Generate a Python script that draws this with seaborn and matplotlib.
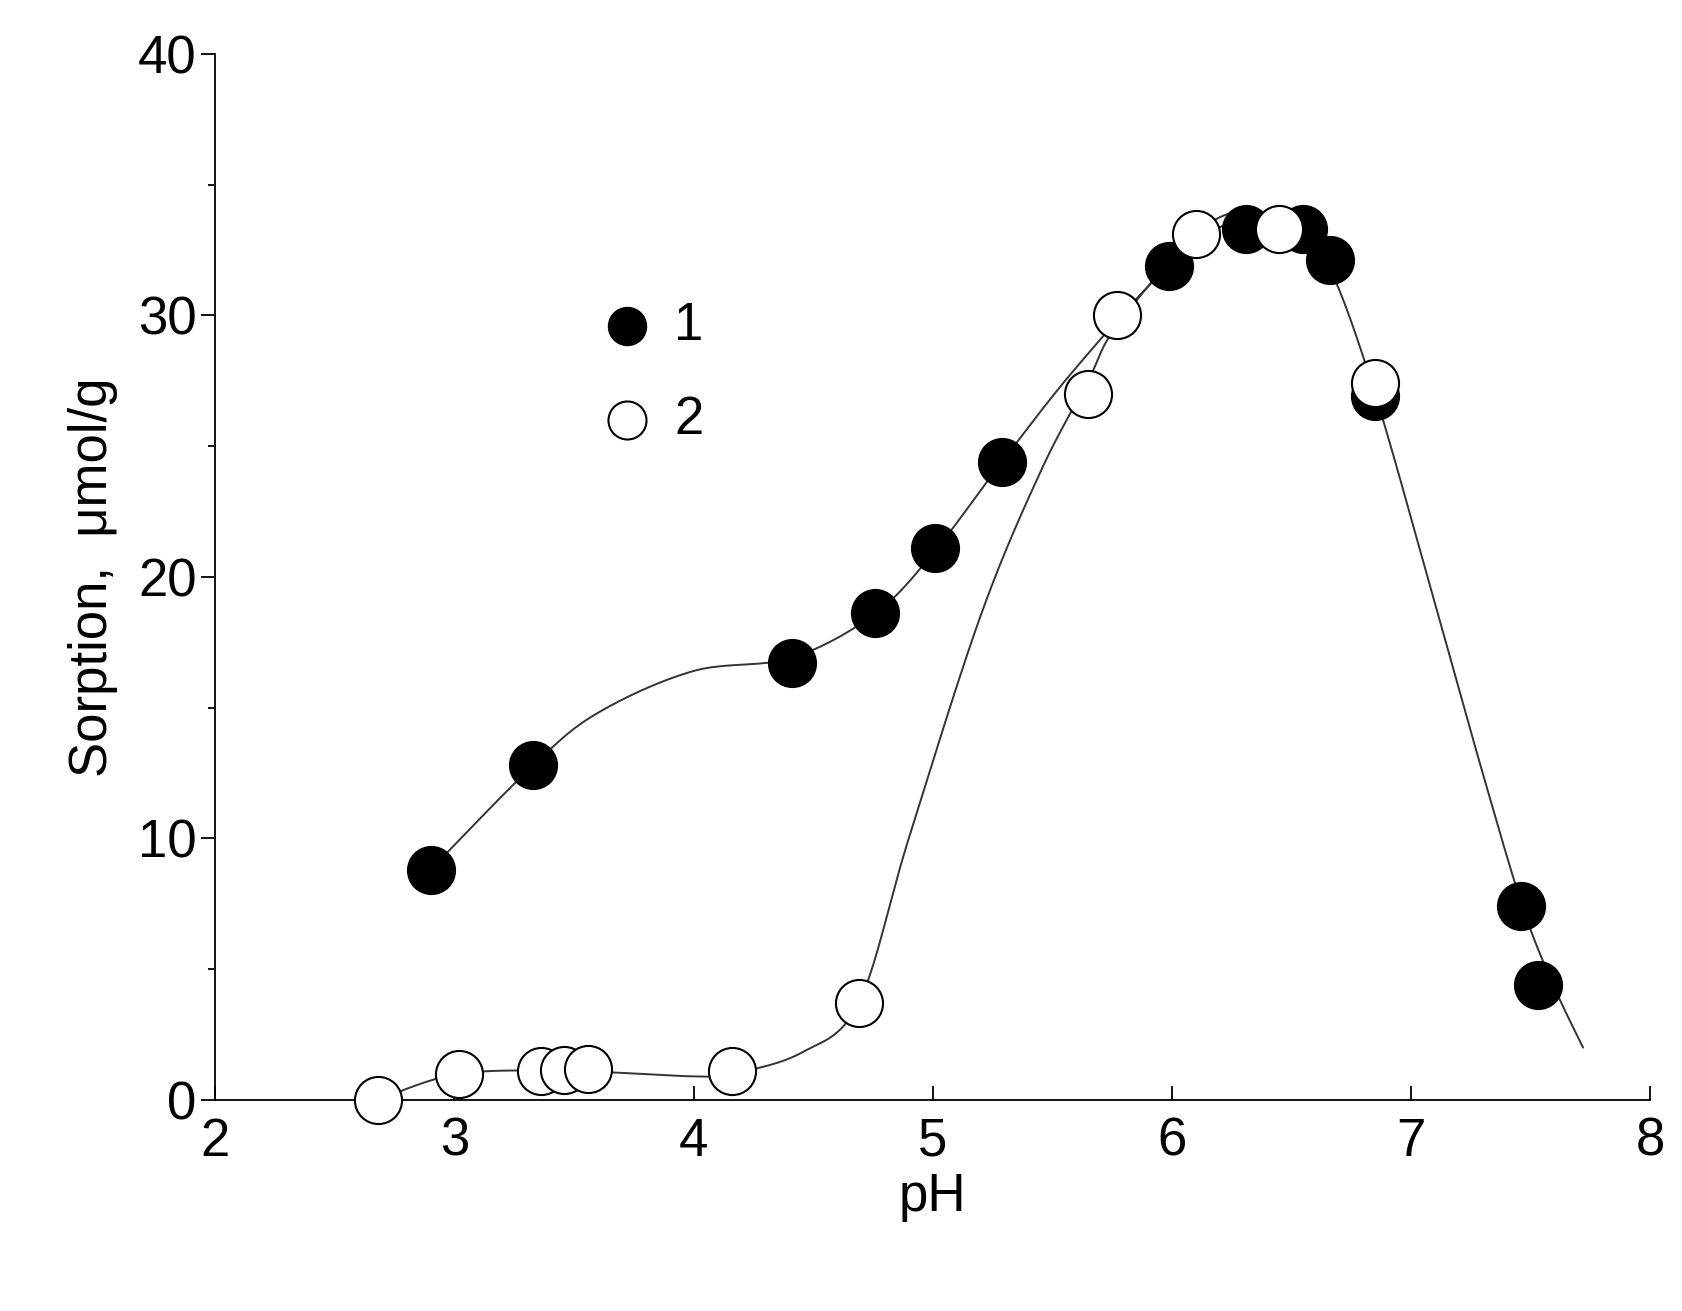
import numpy as np
import matplotlib
matplotlib.use("Agg")
import matplotlib.pyplot as plt
import seaborn as sns

sns.set_theme(style="ticks")
plt.rcParams['font.family'] = ['Liberation Sans', 'DejaVu Sans']
plt.rcParams['text.color'] = 'black'
plt.rcParams['axes.labelcolor'] = 'black'
plt.rcParams['xtick.color'] = 'black'
plt.rcParams['ytick.color'] = 'black'

ph1 = [2.9, 3.33, 4.41, 4.76, 5.01, 5.29, 5.99, 6.31, 6.55, 6.66, 6.85, 7.46, 7.53]
s1 = [8.8, 12.8, 16.7, 18.6, 21.1, 24.4, 31.9, 33.3, 33.3, 32.1, 26.9, 7.4, 4.4]
ph2 = [2.68, 3.02, 3.36, 3.46, 3.56, 4.16, 4.69, 5.65, 5.77, 6.10, 6.45, 6.85]
s2 = [0.0, 1.0, 1.1, 1.15, 1.2, 1.1, 3.7, 27.0, 30.0, 33.1, 33.3, 27.4]

# fitted curves
c1x = [2.9, 3.33, 3.6, 4.0, 4.41, 4.76, 5.01, 5.29, 5.6, 5.99, 6.3, 6.5, 6.66, 6.85, 7.1, 7.3, 7.47, 7.6, 7.72]
c1y = [8.8, 12.8, 14.8, 16.4, 16.9, 18.6, 21.0, 24.4, 28.0, 31.9, 33.8, 33.6, 31.8, 27.0, 19.0, 12.5, 7.3, 4.3, 2.0]
c2x = [2.68, 3.02, 3.5, 4.0, 4.16, 4.45, 4.69, 4.9, 5.2, 5.45, 5.65, 5.77, 6.1, 6.3, 6.45]
c2y = [0.0, 1.0, 1.1, 0.9, 1.0, 1.8, 3.7, 10.0, 18.5, 24.0, 27.5, 29.6, 33.1, 34.0, 33.6]

def smooth(xs, ys, n=20):
    p = np.column_stack([xs, ys]).astype(float)
    p = np.vstack([p[0], p, p[-1]])
    out = []
    t = np.linspace(0, 1, n, endpoint=False)
    for i in range(1, len(p) - 2):
        p0, p1, p2, p3 = p[i-1], p[i], p[i+1], p[i+2]
        for tt in t:
            out.append(0.5 * (2*p1 + (-p0+p2)*tt + (2*p0-5*p1+4*p2-p3)*tt**2 + (-p0+3*p1-3*p2+p3)*tt**3))
    out.append(p[-2])
    out = np.array(out)
    return out[:, 0], out[:, 1]

fig = plt.figure(figsize=(16.82, 13.11), dpi=100)
ax = fig.add_axes([0.128, 0.161, 0.853, 0.798])

for cx, cy in [(c1x, c1y), (c2x, c2y)]:
    sx, sy = smooth(cx, cy)
    ax.plot(sx, sy, color='#333333', lw=1.4, zorder=1)

sns.scatterplot(x=ph1, y=s1, ax=ax, s=1150, color='black', edgecolor='black', linewidth=1.5, zorder=3, legend=False, clip_on=False)
sns.scatterplot(x=ph2, y=s2, ax=ax, s=1150, color='white', edgecolor='black', linewidth=1.5, zorder=4, legend=False, clip_on=False)

ax.scatter([3.72], [29.6], s=750, color='black')
ax.scatter([3.72], [26.0], s=750, facecolor='white', edgecolor='black', linewidth=1.5)
ax.text(3.92, 29.6, '1', fontsize=38, va='center')
ax.text(3.92, 26.0, '2', fontsize=38, va='center')

ax.set_xlim(2, 8)
ax.set_ylim(0, 40)
ax.set_xticks([2, 3, 4, 5, 6, 7, 8])
ax.set_yticks([0, 10, 20, 30, 40])
ax.set_yticks([5, 15, 25, 35], minor=True)
ax.tick_params(axis='both', labelsize=38, length=10, width=1.3)
ax.tick_params(axis='x', direction='in', pad=12)
ax.tick_params(axis='y', which='minor', length=5, width=1.3)
for s in ['left', 'bottom']:
    ax.spines[s].set_color('black')
    ax.spines[s].set_linewidth(1.3)
sns.despine(ax=ax)
ax.set_xlabel('pH', fontsize=38)
ax.set_ylabel('Sorption,  μmol/g', fontsize=38, labelpad=14)
fig.savefig('out.png', dpi=100)
